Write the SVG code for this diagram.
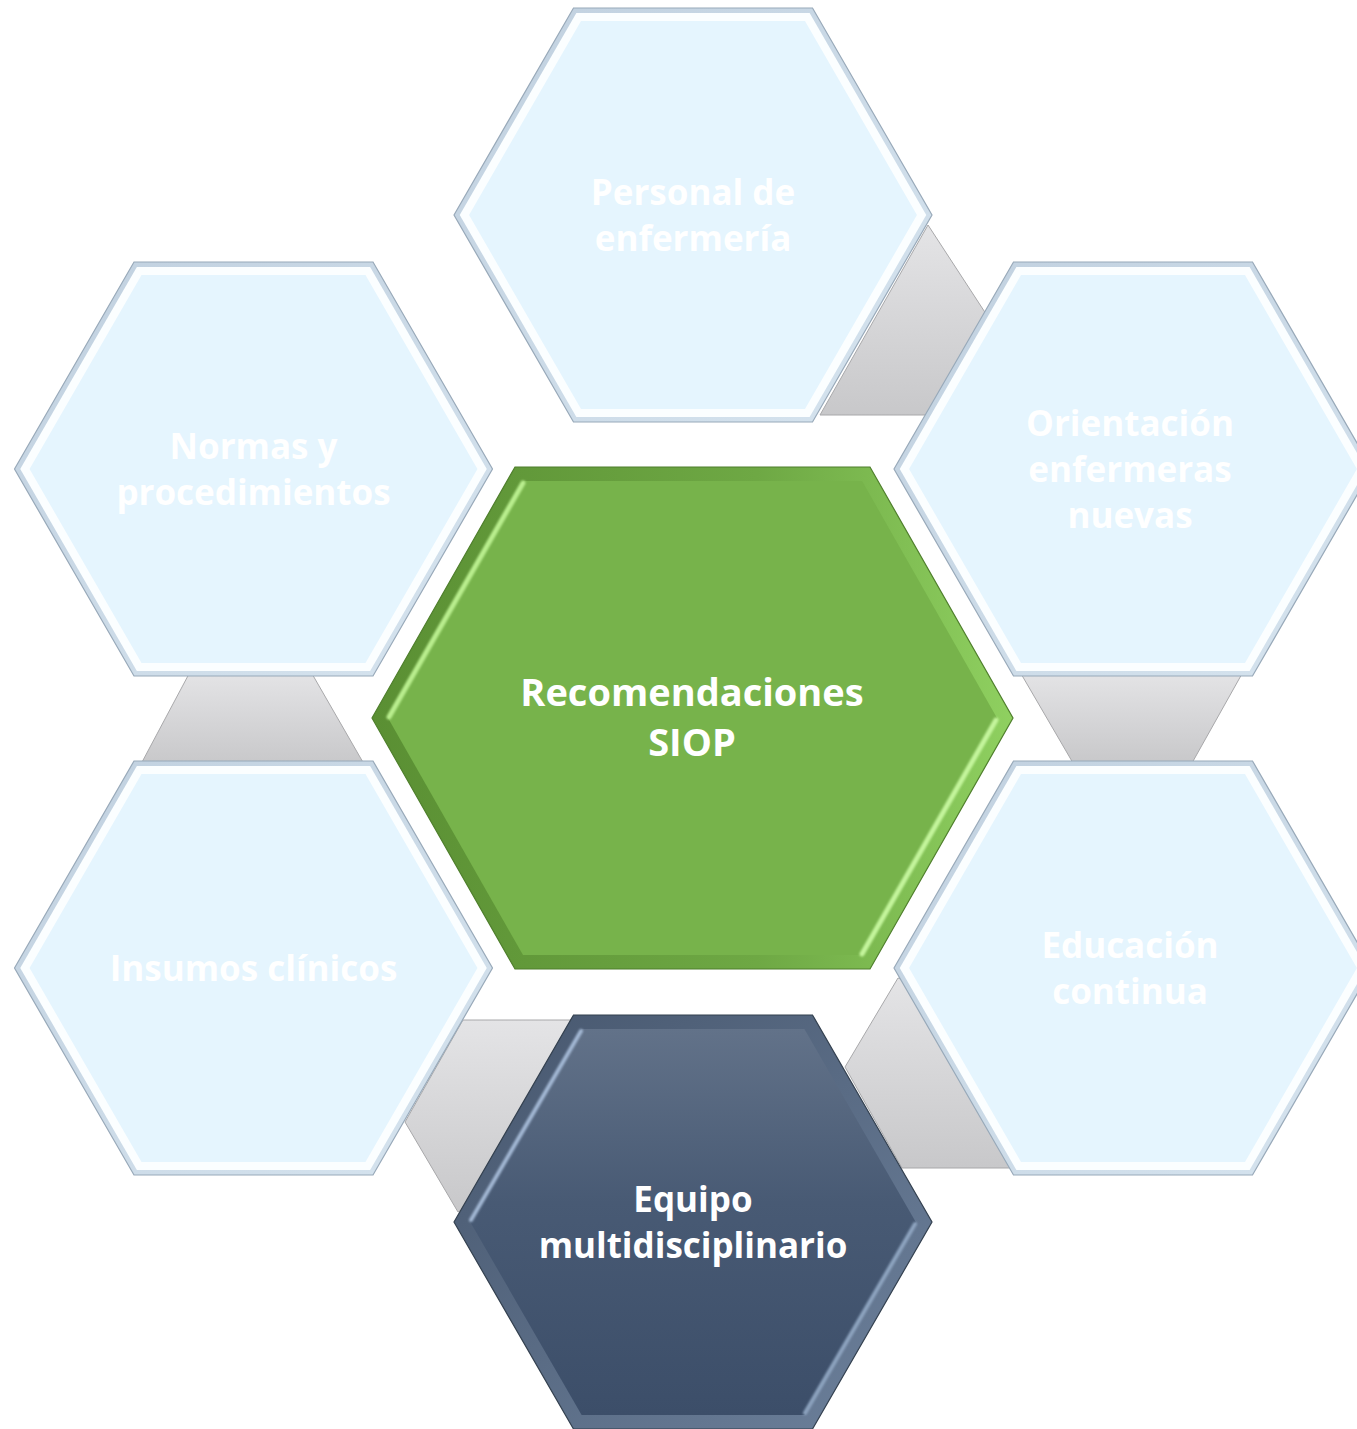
<svg xmlns="http://www.w3.org/2000/svg" xmlns:xlink="http://www.w3.org/1999/xlink" width="1357" height="1429" viewBox="0 0 1357 1429">
<defs>
  <polygon id="hx" points="-239,0 -119.5,-207 119.5,-207 239,0 119.5,207 -119.5,207"/>
  <linearGradient id="gGray" x1="0" y1="0" x2="0" y2="1">
    <stop offset="0" stop-color="#e4e4e6"/>
    <stop offset="1" stop-color="#c8c8ca"/>
  </linearGradient>
  <linearGradient id="gLbOuter" x1="0" y1="0" x2="1" y2="1">
    <stop offset="0" stop-color="#c0d0df"/>
    <stop offset="1" stop-color="#d6e4ef"/>
  </linearGradient>
  <linearGradient id="gGreenOuter" x1="0" y1="0" x2="1" y2="0">
    <stop offset="0" stop-color="#5a8f33"/>
    <stop offset="0.6" stop-color="#6ea844"/>
    <stop offset="1" stop-color="#8fd060"/>
  </linearGradient>
  <linearGradient id="gDarkOuter" x1="0" y1="0" x2="1" y2="1">
    <stop offset="0" stop-color="#46566d"/>
    <stop offset="1" stop-color="#6d819c"/>
  </linearGradient>
  <linearGradient id="gDarkFill" x1="0" y1="0" x2="0" y2="1">
    <stop offset="0" stop-color="#627289"/>
    <stop offset="0.45" stop-color="#485a74"/>
    <stop offset="1" stop-color="#3c4e69"/>
  </linearGradient>
  <filter id="soft" x="-10%" y="-10%" width="120%" height="120%">
    <feGaussianBlur stdDeviation="1.2"/>
  </filter>
  <style>
    .conn { fill: url(#gGray); stroke: #a8a8aa; stroke-width: 1; }
    .lo { fill: url(#gLbOuter); stroke: #98a9b9; stroke-width: 1.2; }
    .lm { fill: #fbfeff; }
    .li { fill: #e5f5fe; }
    .t { font-family: "Open Sans", "Liberation Sans", sans-serif; font-weight: 700; font-size: 35px; fill: #ffffff; text-anchor: middle; }
    .tg { font-size: 38px; }
    .hl { fill: none; stroke-linecap: round; filter: url(#soft); }
  </style>
</defs>

<g id="connectors">
  <polygon class="conn" points="928,225 990,320 960,415 820,415"/>
  <polygon class="conn" points="1020,672 1243,672 1192,763 1073,763"/>
  <polygon class="conn" points="190,672 311,672 364,764 141,764"/>
  <polygon class="conn" points="463,1020 600,1020 560,1150 458,1212 405,1122"/>
  <polygon class="conn" points="898,978 960,1000 1030,1168 902,1168 845,1067"/>
</g>

<g id="node-personal">
  <use xlink:href="#hx" href="#hx" class="lo" transform="translate(693,215)"/>
  <use xlink:href="#hx" href="#hx" class="lm" transform="translate(693,215) scale(0.976)"/>
  <use xlink:href="#hx" href="#hx" class="li" transform="translate(693,215) scale(0.937)"/>
  <text class="t" x="693" y="205">Personal de</text>
  <text class="t" x="693" y="251">enfermería</text>
</g>

<g id="node-normas">
  <use xlink:href="#hx" href="#hx" class="lo" transform="translate(253.5,469)"/>
  <use xlink:href="#hx" href="#hx" class="lm" transform="translate(253.5,469) scale(0.976)"/>
  <use xlink:href="#hx" href="#hx" class="li" transform="translate(253.5,469) scale(0.937)"/>
  <text class="t" x="253.5" y="459">Normas y</text>
  <text class="t" x="253.5" y="505">procedimientos</text>
</g>

<g id="node-orientacion">
  <use xlink:href="#hx" href="#hx" class="lo" transform="translate(1133,469)"/>
  <use xlink:href="#hx" href="#hx" class="lm" transform="translate(1133,469) scale(0.976)"/>
  <use xlink:href="#hx" href="#hx" class="li" transform="translate(1133,469) scale(0.937)"/>
  <text class="t" x="1130" y="436">Orientación</text>
  <text class="t" x="1130" y="482">enfermeras</text>
  <text class="t" x="1130" y="528">nuevas</text>
</g>

<g id="node-insumos">
  <use xlink:href="#hx" href="#hx" class="lo" transform="translate(253.5,968)"/>
  <use xlink:href="#hx" href="#hx" class="lm" transform="translate(253.5,968) scale(0.976)"/>
  <use xlink:href="#hx" href="#hx" class="li" transform="translate(253.5,968) scale(0.937)"/>
  <text class="t" x="253.5" y="981">Insumos clínicos</text>
</g>

<g id="node-educacion">
  <use xlink:href="#hx" href="#hx" class="lo" transform="translate(1133,968)"/>
  <use xlink:href="#hx" href="#hx" class="lm" transform="translate(1133,968) scale(0.976)"/>
  <use xlink:href="#hx" href="#hx" class="li" transform="translate(1133,968) scale(0.937)"/>
  <text class="t" x="1130" y="958">Educación</text>
  <text class="t" x="1130" y="1004">continua</text>
</g>

<g id="node-recomendaciones">
  <polygon points="372,718 515,467 870,467 1013,718 870,969 515,969" fill="url(#gGreenOuter)" stroke="#4f7f2c" stroke-width="1.2"/>
  <polygon points="388,718 523,481 862,481 997,718 862,955 523,955" fill="#77b34b"/>
  <polyline class="hl" points="523,483 389,717" stroke="#b9ee8e" stroke-width="5"/>
  <polyline class="hl" points="996,720 862,954" stroke="#c4f59c" stroke-width="5"/>
  <text class="t tg" x="692" y="706">Recomendaciones</text>
  <text class="t tg" x="692" y="756">SIOP</text>
</g>

<g id="node-equipo">
  <use xlink:href="#hx" href="#hx" transform="translate(693,1222)" fill="url(#gDarkOuter)" stroke="#33404f" stroke-width="1.2"/>
  <use xlink:href="#hx" href="#hx" transform="translate(693,1222) scale(0.932)" fill="url(#gDarkFill)"/>
  <polyline class="hl" points="581,1031 471,1220" stroke="#a3b8d4" stroke-width="4"/>
  <polyline class="hl" points="915,1224 805,1413" stroke="#8ea4c0" stroke-width="4"/>
  <text class="t" x="693" y="1212">Equipo</text>
  <text class="t" x="693" y="1258">multidisciplinario</text>
</g>
</svg>
